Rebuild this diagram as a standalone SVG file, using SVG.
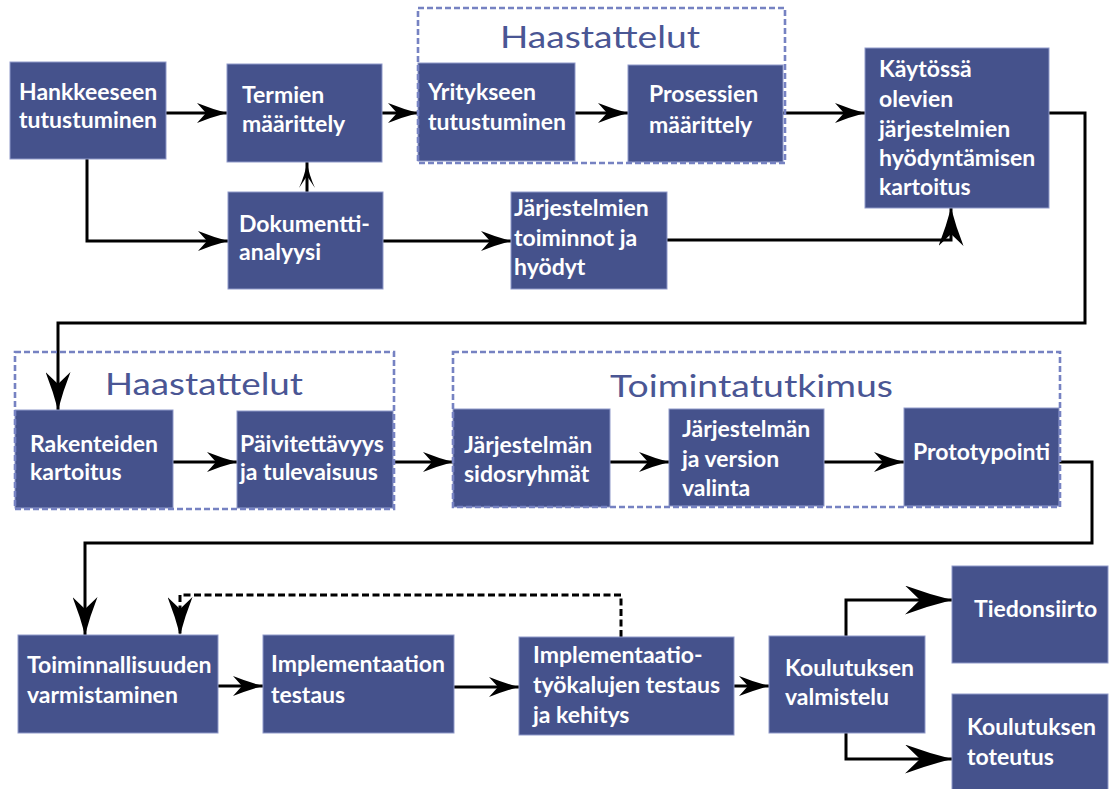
<svg xmlns="http://www.w3.org/2000/svg" width="1111" height="789" viewBox="0 0 1111 789">
  <style>
    .box { fill: #45528c; stroke: #8f99c9; stroke-width: 1; }
    .lbl { fill: #ffffff; font-family: Lato, "Liberation Sans", sans-serif; font-weight: 700; font-size: 23px; }
    .frame { fill: none; stroke: #7682c2; stroke-width: 2.6; stroke-dasharray: 6 3; }
    .title { fill: #4a5694; font-family: Lato, "Liberation Sans", sans-serif; font-weight: 400; font-size: 30px; }
    .line { fill: none; stroke: #000; stroke-width: 3; }
    .dash { stroke-dasharray: 7 3.5; }
  </style>
  <defs>
    <marker id="arr" viewBox="0 -10 30 20" refX="30" refY="0" markerWidth="30" markerHeight="20" markerUnits="userSpaceOnUse" orient="auto">
      <path d="M0,-10 Q15,-4 30,0 Q15,4 0,10 L9,0 Z" fill="#000"/>
    </marker>
    <marker id="arrS" viewBox="0 -8 26 16" refX="26" refY="0" markerWidth="26" markerHeight="16" markerUnits="userSpaceOnUse" orient="auto">
      <path d="M0,-8 Q13,-2 26,0 Q13,2 0,8 L12,0 Z" fill="#000"/>
    </marker>
    <marker id="arrL" viewBox="0 -12.5 38 25" refX="38" refY="0" markerWidth="38" markerHeight="25" markerUnits="userSpaceOnUse" orient="auto">
      <path d="M0,-12.5 Q19,-5 38,0 Q19,5 0,12.5 L12,0 Z" fill="#000"/>
    </marker>
    <marker id="arrXL" viewBox="0 -14.5 47 29" refX="47" refY="0" markerWidth="47" markerHeight="29" markerUnits="userSpaceOnUse" orient="auto">
      <path d="M0,-14.5 Q23,-6 47,0 Q23,6 0,14.5 L15,0 Z" fill="#000"/>
    </marker>
  </defs>

  <rect width="1111" height="789" fill="#ffffff"/>

  <!-- connectors -->
  <g id="connectors">
    <path class="line" d="M166,113 H227" marker-end="url(#arr)"/>
    <path class="line" d="M87,159 V241 H228" marker-end="url(#arr)"/>
    <path class="line" d="M307,192 V162" marker-end="url(#arrS)"/>
    <path class="line" d="M383,241 H511" marker-end="url(#arr)"/>
    <path class="line" d="M382,113 H418" marker-end="url(#arr)"/>
    <path class="line" d="M575,113 H628" marker-end="url(#arr)"/>
    <path class="line" d="M783,113 H865" marker-end="url(#arr)"/>
    <path class="line" d="M667,240 H951 V208" marker-end="url(#arrL)"/>
    <path class="line" d="M1049,113 H1085 V323 H58 V410" marker-end="url(#arrL)"/>
    <path class="line" d="M173,462 H237" marker-end="url(#arr)"/>
    <path class="line" d="M393,462 H453" marker-end="url(#arr)"/>
    <path class="line" d="M610,462 H669" marker-end="url(#arr)"/>
    <path class="line" d="M824,462 H904" marker-end="url(#arr)"/>
    <path class="line" d="M1059,462 H1092 V543 H85 V635" marker-end="url(#arrL)"/>
    <path class="line dash" d="M621,637 V595 H180 V635" marker-end="url(#arrL)"/>
    <path class="line" d="M218,686 H263" marker-end="url(#arr)"/>
    <path class="line" d="M454,687 H519" marker-end="url(#arr)"/>
    <path class="line" d="M734,686 H769" marker-end="url(#arr)"/>
    <path class="line" d="M846,636 V600 H952" marker-end="url(#arrXL)"/>
    <path class="line" d="M846,733 V759 H952" marker-end="url(#arrXL)"/>
  </g>

  <!-- nodes -->
  <g id="n-hankkeeseen">
    <rect class="box" x="10" y="62" width="156" height="97"/>
    <text class="lbl"><tspan x="19" y="100">Hankkeeseen</tspan><tspan x="19" y="128">tutustuminen</tspan></text>
  </g>
  <g id="n-termien">
    <rect class="box" x="227" y="64" width="155" height="98"/>
    <text class="lbl"><tspan x="242" y="103">Termien</tspan><tspan x="242" y="132">määrittely</tspan></text>
  </g>
  <g id="n-dokumentti">
    <rect class="box" x="228" y="192" width="155" height="97"/>
    <text class="lbl"><tspan x="239" y="232">Dokumentti-</tspan><tspan x="239" y="260">analyysi</tspan></text>
  </g>
  <g id="n-yritykseen">
    <rect class="box" x="418" y="63" width="157" height="98"/>
    <text class="lbl"><tspan x="428" y="100">Yritykseen</tspan><tspan x="428" y="130">tutustuminen</tspan></text>
  </g>
  <g id="n-prosessien">
    <rect class="box" x="628" y="65" width="155" height="97"/>
    <text class="lbl"><tspan x="649" y="102">Prosessien</tspan><tspan x="649" y="133">määrittely</tspan></text>
  </g>
  <g id="n-toiminnot">
    <rect class="box" x="511" y="192" width="156" height="97"/>
    <text class="lbl"><tspan x="514" y="216">Järjestelmien</tspan><tspan x="514" y="246">toiminnot ja</tspan><tspan x="514" y="275">hyödyt</tspan></text>
  </g>
  <g id="n-kaytossa">
    <rect class="box" x="865" y="48" width="184" height="160"/>
    <text class="lbl"><tspan x="879" y="77">Käytössä</tspan><tspan x="879" y="107">olevien</tspan><tspan x="879" y="137">järjestelmien</tspan><tspan x="879" y="166">hyödyntämisen</tspan><tspan x="879" y="195">kartoitus</tspan></text>
  </g>
  <g id="n-rakenteiden">
    <rect class="box" x="15" y="410" width="158" height="98"/>
    <text class="lbl"><tspan x="30" y="452">Rakenteiden</tspan><tspan x="30" y="480">kartoitus</tspan></text>
  </g>
  <g id="n-paivitettavyys">
    <rect class="box" x="237" y="411" width="156" height="97"/>
    <text class="lbl"><tspan x="240" y="452">Päivitettävyys</tspan><tspan x="240" y="480">ja tulevaisuus</tspan></text>
  </g>
  <g id="n-sidosryhmat">
    <rect class="box" x="453" y="409" width="157" height="98"/>
    <text class="lbl"><tspan x="464" y="453">Järjestelmän</tspan><tspan x="464" y="482">sidosryhmät</tspan></text>
  </g>
  <g id="n-valinta">
    <rect class="box" x="669" y="409" width="155" height="97"/>
    <text class="lbl"><tspan x="682" y="437">Järjestelmän</tspan><tspan x="682" y="467">ja version</tspan><tspan x="682" y="496">valinta</tspan></text>
  </g>
  <g id="n-prototypointi">
    <rect class="box" x="904" y="408" width="155" height="98"/>
    <text class="lbl"><tspan x="913" y="460">Prototypointi</tspan></text>
  </g>
  <g id="n-toiminnallisuus">
    <rect class="box" x="18" y="635" width="200" height="98"/>
    <text class="lbl"><tspan x="27" y="673">Toiminnallisuuden</tspan><tspan x="27" y="703">varmistaminen</tspan></text>
  </g>
  <g id="n-implementaatio">
    <rect class="box" x="263" y="635" width="191" height="98"/>
    <text class="lbl"><tspan x="271" y="672">Implementaation</tspan><tspan x="271" y="703">testaus</tspan></text>
  </g>
  <g id="n-tyokalut">
    <rect class="box" x="519" y="637" width="215" height="98"/>
    <text class="lbl"><tspan x="533" y="663">Implementaatio-</tspan><tspan x="533" y="693">työkalujen testaus</tspan><tspan x="533" y="723">ja kehitys</tspan></text>
  </g>
  <g id="n-valmistelu">
    <rect class="box" x="769" y="636" width="156" height="97"/>
    <text class="lbl"><tspan x="785" y="676">Koulutuksen</tspan><tspan x="785" y="705">valmistelu</tspan></text>
  </g>
  <g id="n-tiedonsiirto">
    <rect class="box" x="952" y="566" width="156" height="97"/>
    <text class="lbl"><tspan x="974" y="617">Tiedonsiirto</tspan></text>
  </g>
  <g id="n-toteutus">
    <rect class="box" x="952" y="694" width="156" height="98"/>
    <text class="lbl"><tspan x="967" y="735">Koulutuksen</tspan><tspan x="967" y="765">toteutus</tspan></text>
  </g>

  <!-- dashed phase frames with titles -->
  <g id="g-haastattelut-1">
    <rect class="frame" x="418" y="8" width="367" height="155"/>
    <text class="title" x="500" y="48" textLength="200" lengthAdjust="spacingAndGlyphs">Haastattelut</text>
  </g>
  <g id="g-haastattelut-2">
    <rect class="frame" x="15" y="352" width="379" height="157"/>
    <text class="title" x="105" y="395" textLength="198" lengthAdjust="spacingAndGlyphs">Haastattelut</text>
  </g>
  <g id="g-toimintatutkimus">
    <rect class="frame" x="453" y="352" width="607" height="155"/>
    <text class="title" x="610" y="397" textLength="283" lengthAdjust="spacingAndGlyphs">Toimintatutkimus</text>
  </g>
</svg>
